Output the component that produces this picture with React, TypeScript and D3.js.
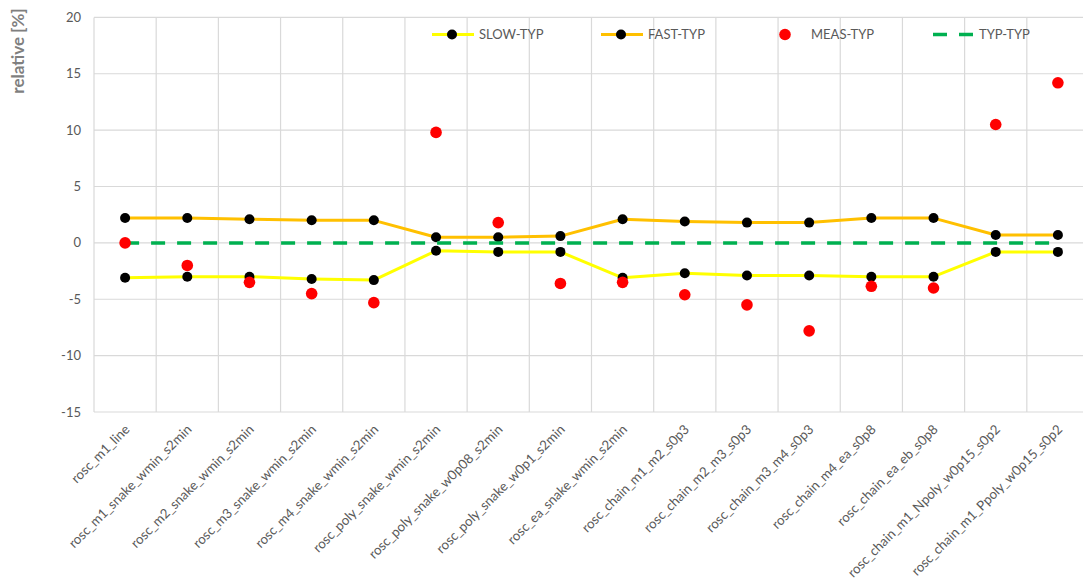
import React from "react";
import * as d3 from "d3";

const categories = [
  "rosc_m1_line",
  "rosc_m1_snake_wmin_s2min",
  "rosc_m2_snake_wmin_s2min",
  "rosc_m3_snake_wmin_s2min",
  "rosc_m4_snake_wmin_s2min",
  "rosc_poly_snake_wmin_s2min",
  "rosc_poly_snake_w0p08_s2min",
  "rosc_poly_snake_w0p1_s2min",
  "rosc_ea_snake_wmin_s2min",
  "rosc_chain_m1_m2_s0p3",
  "rosc_chain_m2_m3_s0p3",
  "rosc_chain_m3_m4_s0p3",
  "rosc_chain_m4_ea_s0p8",
  "rosc_chain_ea_eb_s0p8",
  "rosc_chain_m1_Npoly_w0p15_s0p2",
  "rosc_chain_m1_Ppoly_w0p15_s0p2",
];

const slowTyp = [-3.1, -3.0, -3.0, -3.2, -3.3, -0.7, -0.8, -0.8, -3.1, -2.7, -2.9, -2.9, -3.0, -3.0, -0.8, -0.8];
const fastTyp = [2.2, 2.2, 2.1, 2.0, 2.0, 0.5, 0.5, 0.6, 2.1, 1.9, 1.8, 1.8, 2.2, 2.2, 0.7, 0.7];
const measTyp = [0.0, -2.0, -3.5, -4.5, -5.3, 9.8, 1.8, -3.6, -3.5, -4.6, -5.5, -7.8, -3.85, -4.0, 10.5, 14.2];
const typTyp = [0, 0, 0, 0, 0, 0, 0, 0, 0, 0, 0, 0, 0, 0, 0, 0];

const yTicks = [20, 15, 10, 5, 0, -5, -10, -15];

const W = 1083;
const H = 588;
const left = 94;
const right = 1089;
const top = 17.4;
const bottom = 412;

const FONT = "Lato, 'Open Sans', sans-serif";
const TEXT = "#595959";
const GRID = "#d9d9d9";

export default function App() {
  const x = d3.scaleBand<string>().domain(categories).range([left, right]).padding(0);
  const cx = (i: number) => (x(categories[i]) as number) + x.bandwidth() / 2;
  const y = d3.scaleLinear().domain([-15, 20]).range([bottom, top]);

  const line = d3
    .line<number>()
    .x((_, i) => cx(i))
    .y((d) => y(d));

  const boundaries = categories.map((c) => x(c) as number).concat([right]);

  return (
    <div style={{ position: "fixed", left: 0, top: 0, width: W, height: H, background: "#fff" }}>
      <svg width={W} height={H} style={{ display: "block" }}>
        <rect x={0} y={0} width={W} height={H} fill="#fff" />
        {yTicks.map((t) => (
          <line key={"h" + t} x1={left} x2={right} y1={y(t)} y2={y(t)} stroke={GRID} strokeWidth={1.2} />
        ))}
        {boundaries.map((b, i) => (
          <line key={"v" + i} x1={b} x2={b} y1={y(20)} y2={y(-15)} stroke={GRID} strokeWidth={1.2} />
        ))}
        {yTicks.map((t) => (
          <text
            key={"t" + t}
            x={81}
            y={y(t)}
            dy="0.35em"
            textAnchor="end"
            fontFamily={FONT}
            fontSize={13}
            fill={TEXT}
          >
            {t}
          </text>
        ))}
        <text
          transform={`translate(24,51) rotate(-90)`}
          textAnchor="middle"
          fontFamily={FONT}
          fontSize={17}
          fontWeight="bold"
          fill="#7f7f7f"
        >
          relative [%]
        </text>
        {categories.map((c, i) => (
          <text
            key={"x" + i}
            transform={`translate(${cx(i) + 2},${427}) rotate(-45)`}
            textAnchor="end"
            dy="0.35em"
            fontFamily={FONT}
            fontSize={13.3}
            fill={TEXT}
          >
            {c}
          </text>
        ))}

        <path d={line(slowTyp) || ""} fill="none" stroke="#ffff00" strokeWidth={3} strokeLinejoin="round" />
        <path d={line(fastTyp) || ""} fill="none" stroke="#ffc000" strokeWidth={3} strokeLinejoin="round" />
        {slowTyp.map((v, i) => (
          <circle key={"s" + i} cx={cx(i)} cy={y(v)} r={5} fill="#000" />
        ))}
        {fastTyp.map((v, i) => (
          <circle key={"f" + i} cx={cx(i)} cy={y(v)} r={5} fill="#000" />
        ))}
        <path d={line(typTyp) || ""} fill="none" stroke="#00b050" strokeWidth={3.5} strokeDasharray="14 12" />
        {measTyp.map((v, i) => (
          <circle key={"m" + i} cx={cx(i)} cy={y(v)} r={5.8} fill="#ff0000" />
        ))}

        <g fontFamily={FONT} fontSize={13} fill={TEXT}>
          <line x1={432} x2={474} y1={34.5} y2={34.5} stroke="#ffff00" strokeWidth={3} />
          <circle cx={452} cy={34.5} r={5} fill="#000" />
          <text x={479} y={34.5} dy="0.35em">SLOW-TYP</text>

          <line x1={601} x2={643} y1={34.5} y2={34.5} stroke="#ffc000" strokeWidth={3} />
          <circle cx={621} cy={34.5} r={5} fill="#000" />
          <text x={648} y={34.5} dy="0.35em">FAST-TYP</text>

          <circle cx={785} cy={34.5} r={5.8} fill="#ff0000" />
          <text x={811} y={34.5} dy="0.35em">MEAS-TYP</text>

          <line x1={933} x2={974} y1={34.5} y2={34.5} stroke="#00b050" strokeWidth={3.5} strokeDasharray="14 12" />
          <text x={979} y={34.5} dy="0.35em">TYP-TYP</text>
        </g>
      </svg>
    </div>
  );
}
